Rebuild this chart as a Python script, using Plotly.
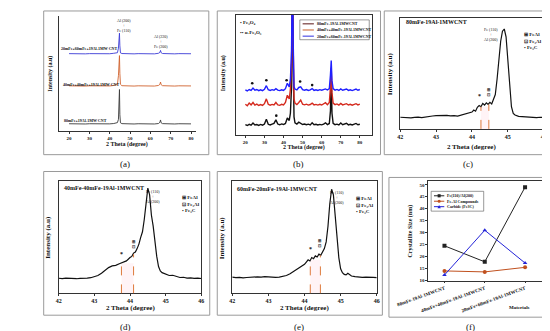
import plotly.graph_objects as go

W, H = 550, 331
SERIF = "Liberation Serif"

# ---------------- (a) stacked XRD patterns ----------------
a_theta = [20, 22, 24, 26, 28, 30, 32, 34, 36, 38, 40, 42,
           43.8, 44.3, 44.6, 44.8, 45.0, 45.3,
           46, 48, 50, 52, 54, 56, 58, 60, 62, 64,
           64.7, 65.0, 65.3,
           66, 68, 70, 72, 74, 76, 78, 80]
a_80 = [6.2, 6.0, 6.3, 6.1, 6.0, 6.2, 6.1, 6.3, 6.0, 6.2, 6.1, 6.4,
        7.2, 10.0, 20.0, 36.0, 14.0, 7.0,
        6.3, 6.1, 6.2, 6.0, 6.2, 6.1, 6.3, 6.2, 6.0, 6.4,
        7.5, 9.5, 7.0,
        6.3, 6.1, 6.2, 6.0, 6.2, 6.1, 6.2, 6.1]
a_40 = [39.2, 39.0, 39.3, 39.1, 39.0, 39.2, 39.1, 39.3, 39.0, 39.2, 39.1, 39.5,
        40.5, 48.0, 62.0, 65.5, 50.0, 40.5,
        39.3, 39.1, 39.2, 39.0, 39.2, 39.1, 39.3, 39.2, 39.0, 39.5,
        40.5, 42.5, 40.2,
        39.3, 39.1, 39.2, 39.0, 39.2, 39.1, 39.2, 39.1]
a_20 = [67.2, 67.0, 67.3, 67.1, 67.0, 67.2, 67.1, 67.3, 67.0, 67.2, 67.1, 67.5,
        68.0, 72.0, 82.0, 85.0, 74.0, 67.8,
        67.3, 67.1, 67.2, 67.0, 67.2, 67.1, 67.3, 67.2, 67.0, 67.5,
        68.3, 70.0, 68.0,
        67.3, 67.1, 67.2, 67.0, 67.2, 67.1, 67.2, 67.1]
a_names = ["80mFe+19Al-1MW CNT", "40mFe+40mFe+19Al-1MW CNT", "20mFe+60mFe+19Al-1MW CNT"]

# ---------------- (b) XRD patterns with oxides ----------------
b_theta = [20, 21, 22, 23, 24, 25, 26, 27, 28, 29, 30, 31, 32, 33, 34, 35, 36, 37, 38, 39, 40, 41, 42, 43,
           43.6, 44.2, 44.5, 44.8, 45.1, 45.5,
           46, 47, 48, 49, 50, 51, 52, 53, 54, 55, 56, 57, 58, 59, 60, 61, 62, 63, 64,
           64.6, 65.0, 65.4,
           66, 67, 68, 69, 70, 71, 72, 73, 74, 75, 76, 77, 78, 79, 80]
b_80 = [8.5, 7.8, 8.8, 8.0, 9.8, 8.2, 8.6, 7.9, 8.7, 8.1, 9.0, 13.0, 8.8, 8.2, 8.9, 9.5, 12.5, 9.0, 8.4, 9.1, 8.6, 9.5, 14.0, 12.0,
        18, 40, 120, 130, 60, 15,
        10.0, 9.0, 10.5, 9.2, 8.6, 9.0, 8.4, 8.9, 8.3, 10.0, 8.5, 8.8, 8.2, 8.7, 8.3, 9.0, 10.0, 8.6, 9.5,
        20, 50, 18,
        9.5, 8.5, 8.9, 8.2, 9.8, 8.4, 8.8, 9.6, 8.3, 8.8, 8.2, 8.7, 9.5, 8.4, 8.8]
b_40 = [25.5, 24.2, 26.5, 25.0, 27.0, 24.8, 25.6, 24.5, 25.3, 24.6, 26.0, 30.0, 25.5, 24.7, 25.4, 24.9, 27.0, 25.0, 24.6, 25.5, 25.0, 27.0, 33.0, 30.0,
        38, 60, 120, 130, 70, 30,
        26.5, 25.2, 27.0, 29.0, 25.5, 25.0, 25.6, 24.8, 25.3, 26.5, 25.0, 25.4, 24.8, 25.5, 24.9, 25.6, 26.8, 25.2, 27.0,
        40, 56, 35,
        26.5, 25.2, 25.8, 24.8, 26.2, 25.0, 25.5, 26.0, 24.9, 25.5, 24.7, 25.3, 26.0, 25.0, 25.6]
b_20 = [37.5, 36.6, 37.8, 37.0, 39.0, 37.2, 37.8, 36.8, 37.6, 36.9, 38.0, 41.0, 37.6, 37.0, 37.7, 37.2, 38.5, 37.3, 36.9, 37.6, 37.1, 38.5, 43.0, 40.0,
        46, 70, 125, 130, 75, 40,
        38.2, 37.5, 39.5, 40.0, 37.6, 37.2, 37.8, 37.0, 37.5, 38.6, 37.1, 37.6, 37.0, 37.7, 37.2, 37.8, 38.3, 37.4, 38.5,
        50, 62, 45,
        38.5, 37.3, 37.9, 37.0, 38.3, 37.2, 37.7, 38.2, 37.1, 37.6, 36.9, 37.5, 38.2, 37.2, 37.8]
b_names = ["80mFe-19Al-1MWCNT", "40mFe+40mFe-19Al-1MWCNT", "20mFe+60mFe-19Al-1MWCNT"]
b_star_theta = [23.6, 31.0, 41.6, 48.7, 55.0, 36.2]
b_star_int = [43.0, 45.5, 45.5, 44.5, 41.5, 16.0]

# ---------------- (c) 80mFe-19Al-1MWCNT ----------------
c_theta = [42.0, 42.1, 42.2, 42.3, 42.4, 42.5, 42.6, 42.7, 42.8, 42.9, 43.0, 43.1, 43.2, 43.3, 43.4, 43.5,
           43.6, 43.7, 43.8, 43.9, 44.0, 44.05, 44.1, 44.15, 44.2, 44.25, 44.3, 44.35, 44.4, 44.45, 44.5,
           44.55, 44.6, 44.65, 44.7, 44.75, 44.8, 44.85, 44.9, 44.95, 45.0, 45.05, 45.1, 45.15, 45.2,
           45.3, 45.4, 45.5, 45.6, 45.7, 45.8, 45.9, 46.0]
c_int = [10.5, 10.2, 10.4, 10.0, 10.3, 10.6, 10.2, 10.9, 11.3, 11.6, 11.9, 12.1, 11.7, 12.2, 11.8, 12.0,
         11.5, 12.6, 13.2, 14.5, 15.2, 17.0, 16.0, 19.5, 21.0, 20.0, 23.0, 21.5, 23.5, 22.0, 24.0,
         22.5, 26.0, 31.0, 45.0, 62.0, 79.0, 88.0, 90.0, 83.0, 60.0, 35.0, 20.0, 14.0, 12.5,
         11.3, 11.0, 10.7, 10.4, 10.6, 10.2, 10.5, 10.3]
c_dash_theta = [44.25, 44.47]
c_dash_top = [20.0, 22.0]

# ---------------- (d) 40mFe-40mFe-19Al-1MWCNT ----------------
d_theta = [42.0, 42.1, 42.2, 42.3, 42.4, 42.5, 42.6, 42.7, 42.8, 42.9, 43.0, 43.1, 43.2, 43.3, 43.4, 43.5,
           43.6, 43.7, 43.8, 43.9, 44.0, 44.05, 44.1, 44.15, 44.2, 44.25, 44.3, 44.35, 44.4, 44.45, 44.5,
           44.55, 44.6, 44.65, 44.7, 44.75, 44.8, 44.85, 44.9, 45.0, 45.1, 45.2, 45.3, 45.4, 45.5,
           45.6, 45.7, 45.8, 45.9, 46.0]
d_int = [13.5, 13.2, 13.6, 13.3, 13.5, 13.1, 13.4, 13.2, 13.6, 14.0, 15.0, 16.0, 18.0, 20.5, 23.0, 24.5,
         25.0, 26.5, 28.0, 29.0, 32.0, 33.0, 36.0, 37.0, 40.0, 44.0, 50.0, 55.0, 66.0, 82.0, 94.0,
         88.0, 70.0, 60.0, 45.0, 33.0, 24.0, 20.0, 18.5, 17.5, 16.0, 16.2, 15.0, 14.2, 14.4,
         13.6, 13.9, 13.4, 13.6, 13.3]
d_dash_theta = [43.76, 44.1]
d_dash_top = [27.0, 35.0]

# ---------------- (e) 60mFe-20mFe-19Al-1MWCNT ----------------
e_theta = [42.0, 42.1, 42.2, 42.3, 42.4, 42.5, 42.6, 42.7, 42.8, 42.9, 43.0, 43.1, 43.2, 43.3, 43.4, 43.5,
           43.6, 43.7, 43.8, 43.9, 44.0, 44.05, 44.1, 44.15, 44.2, 44.25, 44.3, 44.35, 44.4, 44.45, 44.5,
           44.55, 44.6, 44.65, 44.7, 44.75, 44.8, 44.85, 44.9, 44.95, 45.0, 45.05, 45.1, 45.15, 45.2,
           45.3, 45.4, 45.5, 45.6, 45.7, 45.8, 45.9, 46.0]
e_int = [14.5, 14.0, 14.3, 13.9, 14.2, 14.6, 14.4, 14.8, 14.5, 15.0, 14.8, 14.5, 14.3, 14.6, 15.2, 16.0,
         17.5, 19.5, 21.5, 23.5, 26.0, 28.0, 30.0, 29.0, 32.0, 31.0, 33.5, 32.5, 35.0, 34.0, 37.0,
         40.0, 46.0, 60.0, 80.0, 93.0, 88.0, 70.0, 50.0, 32.0, 22.0, 18.5, 17.0, 16.5, 18.0,
         15.5, 15.0, 14.6, 14.3, 14.5, 14.1, 14.3, 14.0]
e_dash_theta = [44.16, 44.44]
e_dash_top = [30.0, 34.0]

# ---------------- (f) crystallite size ----------------
f_materials = ["80mFe-19Al-1MWCNT", "40mFe+40mFe-19Al-1MWCNT", "20mFe+60mFe-19Al-1MWCNT"]
f_fe110 = [24.5, 17.8, 49.0]
f_feal = [14.0, 13.6, 15.5]
f_carbide = [12.3, 31.0, 17.3]
f_names = ["Fe(110)/Al(200)", "Fe-Al Compounds", "Carbide (Fe3C)"]


def px(x):
    return x / W


def py(y):
    return 1 - y / H


def font(size, bold=True, color="#111111"):
    return dict(family=SERIF, size=size, color=color, weight="bold" if bold else "normal")


fig = go.Figure()
annotations = []
shapes = []


def ann(x, y, text, size, bold=True, xa="center", ya="middle", angle=0, color="#111111", align="center"):
    annotations.append(dict(x=px(x), y=py(y), xref="paper", yref="paper", text=text, showarrow=False,
                            font=font(size, bold, color), xanchor=xa, yanchor=ya, textangle=angle,
                            align=align, borderpad=0))


def dann(xr, yr, x, y, text, size, bold=True, xa="center", ya="middle"):
    annotations.append(dict(x=x, y=y, xref=xr, yref=yr, text=text, showarrow=False,
                            font=font(size, bold), xanchor=xa, yanchor=ya, borderpad=0))


def border(l, t, r, b):
    shapes.append(dict(type="rect", xref="paper", yref="paper", x0=px(l), x1=px(r), y0=py(b), y1=py(t),
                       line=dict(color="#9a9a9a", width=1), fillcolor="rgba(0,0,0,0)", layer="below"))


def axes(n, l, t, r, b, xr, yr, dtick, mirror=True, tick_size=5, yticks=False, ydtick=None):
    xs = "xaxis" if n == 1 else f"xaxis{n}"
    ys = "yaxis" if n == 1 else f"yaxis{n}"
    yid = "y" if n == 1 else f"y{n}"
    xid = "x" if n == 1 else f"x{n}"
    xa = dict(domain=[px(l), px(r)], range=xr, anchor=yid, showline=True, linecolor="#333", linewidth=0.8,
              mirror=mirror, ticks="outside", ticklen=2, tickwidth=0.7, tickcolor="#333", showgrid=False,
              zeroline=False, tickfont=font(tick_size), fixedrange=True)
    if dtick is not None:
        xa.update(dtick=dtick, tick0=0)
    ya = dict(domain=[py(b), py(t)], range=yr, anchor=xid, showline=True, linecolor="#333", linewidth=0.8,
              mirror=mirror, showgrid=False, zeroline=False, fixedrange=True)
    if yticks:
        ya.update(ticks="outside", ticklen=2, tickwidth=0.7, tickcolor="#333", dtick=ydtick,
                  tickfont=font(tick_size))
    else:
        ya.update(showticklabels=False, ticks="")
    fig.update_layout(**{xs: xa, ys: ya})
    return xid, yid


# ---------------- panel (a) ----------------
border(5, 3, 181, 148)
xa_, ya_ = axes(1, 21, 8, 167, 124, [14.9, 82.3], [0, 100], 10, mirror=False, tick_size=5)
for yv, col, nm in [(a_80, "#3a3a3a", a_names[0]), (a_40, "#d0622e", a_names[1]), (a_20, "#3b3bd6", a_names[2])]:
    fig.add_trace(go.Scatter(x=a_theta, y=yv, mode="lines", line=dict(color=col, width=0.9),
                             xaxis=xa_, yaxis=ya_, showlegend=False, name=nm))
ann(22, 41, a_names[2], 4, xa="left")
ann(25, 77, a_names[1], 4, xa="left")
ann(26, 114, a_names[0], 4, xa="left")
ann(91, 18, "Al (200)<br>+<br>Fe (110)", 4, bold=False)
ann(130, 34, "Al (220)<br>+<br>Fe (200)", 4, bold=False)
ann(94, 138, "2 Theta (degree)", 6)
ann(12, 66, "Intensity (a.u)", 6, angle=-90)
ann(92, 157, "(a)", 9, bold=False)

# ---------------- panel (b) ----------------
border(190, 3, 364, 148)
xb_, yb_ = axes(2, 210, 7, 355, 128, [15.1, 86.4], [0, 100], 10, tick_size=5)
for yv, col, nm in [(b_80, "#111111", b_names[0]), (b_40, "#d42a1e", b_names[1]), (b_20, "#1f1fff", b_names[2])]:
    fig.add_trace(go.Scatter(x=b_theta, y=yv, mode="lines", line=dict(color=col, width=1.4),
                             xaxis=xb_, yaxis=yb_, showlegend=False, name=nm))
fig.add_trace(go.Scatter(x=b_star_theta, y=b_star_int, mode="markers",
                         marker=dict(symbol="circle", size=2.6, color="#111"),
                         xaxis=xb_, yaxis=yb_, showlegend=False, name="Fe3O4"))
ann(213, 15, "• Fe₃O₄", 5, xa="left")
ann(213, 25, "•• α-Fe₂O₃", 5, xa="left")
# legend box
shapes.append(dict(type="rect", xref="paper", yref="paper", x0=px(278), x1=px(352), y0=py(32), y1=py(12),
                   line=dict(color="#555", width=0.6), fillcolor="white"))
for i, (col, nm) in enumerate(zip(["#5a1414", "#c8602a", "#3030e0"], b_names)):
    yy = 16 + i * 6.2
    shapes.append(dict(type="line", xref="paper", yref="paper", x0=px(281), x1=px(293), y0=py(yy), y1=py(yy),
                       line=dict(color=col, width=1)))
    ann(295, yy, nm, 4, xa="left")
ann(282, 141, "2 Theta (degree)", 6)
ann(197, 66, "Intensity (a.u)", 6, angle=-90)
ann(277, 157, "(b)", 9, bold=False)


def zoom_panel(n, l, t, r, b, theta, inten, dash_x, dash_top, title, title_xy, peak_xy, leg_xy,
               star_xy, mark_xy, xtitle_y, ytitle_x, lab_xy, lab):
    xi, yi = axes(n, l, t, r, b, [42, 46], [0, 100], 1, tick_size=6)
    shapes.append(dict(type="rect", xref=xi, yref=yi, x0=dash_x[0], x1=dash_x[1], y0=0, y1=min(dash_top),
                       fillcolor="rgba(255,200,215,0.22)", line=dict(width=0), layer="below"))
    for dx, top in zip(dash_x, dash_top):
        shapes.append(dict(type="line", xref=xi, yref=yi, x0=dx, x1=dx, y0=0, y1=top,
                           line=dict(color="#de7a3c", width=1, dash="dash")))
    fig.add_trace(go.Scatter(x=theta, y=inten, mode="lines", line=dict(color="#111", width=1.2),
                             xaxis=xi, yaxis=yi, showlegend=False, name=title))
    ann(title_xy[0], title_xy[1], title, 6, xa="left")
    ann(peak_xy[0], peak_xy[1], "Fe (110)<br>+<br>Al (200)", 4, bold=False)
    ann(leg_xy[0], leg_xy[1], "⊞ FeAl<br>⊡ Fe₃Al<br>• Fe₃C", 5, align="left")
    dann(xi, yi, star_xy[0], star_xy[1], "*", 6)
    dann(xi, yi, mark_xy[0], mark_xy[1], "⊞<br>⊡", 4)
    ann((l + r) / 2, xtitle_y, "2 Theta (degree)", 7)
    ann(ytitle_x, (t + b) / 2, "Intensity (a.u)", 7, angle=-90)
    ann(lab_xy[0], lab_xy[1], lab, 9, bold=False)


# ---------------- panel (c) ----------------
border(368, 3, 546, 148)
zoom_panel(3, 385, 10, 538, 122, c_theta, c_int, c_dash_theta, c_dash_top, "80mFe-19Al-1MWCNT",
           (390, 14), (482, 27), (527, 33), (44.2, 30), (44.48, 33), 140, 375, (457, 157), "(c)")

# ---------------- panel (d) ----------------
border(5, 165, 182, 310)
zoom_panel(4, 21, 175, 173, 288, d_theta, d_int, d_dash_theta, d_dash_top, "40mFe-40mFe-19Al-1MWCNT",
           (26, 182), (122, 190), (162, 198), (43.76, 35), (44.1, 44), 303, 10, (92, 322), "(d)")

# ---------------- panel (e) ----------------
border(190, 165, 366, 310)
zoom_panel(5, 206, 175, 360, 288, e_theta, e_int, e_dash_theta, e_dash_top, "60mFe-20mFe-19Al-1MWCNT",
           (210, 183), (318, 191), (348, 199), (44.16, 40), (44.44, 45), 303, 195, (277, 322), "(e)")

# ---------------- panel (f) ----------------
border(373, 171, 547, 312)
xf_, yf_ = axes(6, 415, 175, 540, 275, [-0.4, 2.51], [10, 51.4], None, tick_size=5, yticks=True, ydtick=5)
fig.update_layout(xaxis6=dict(type="category", tickangle=-20, ticks="outside", ticklen=2))
for yv, col, sym, nm in [(f_fe110, "#222222", "square", f_names[0]),
                         (f_feal, "#c0501e", "circle", f_names[1]),
                         (f_carbide, "#2424d8", "triangle-up", f_names[2])]:
    fig.add_trace(go.Scatter(x=f_materials, y=yv, mode="lines+markers", line=dict(color=col, width=1),
                             marker=dict(symbol=sym, size=4, color=col), xaxis=xf_, yaxis=yf_,
                             showlegend=False, name=nm))
# legend for (f)
shapes.append(dict(type="rect", xref="paper", yref="paper", x0=px(418), x1=px(474), y0=py(205), y1=py(185),
                   line=dict(color="#555", width=0.6), fillcolor="white"))
leg_cols = ["#222222", "#c0501e", "#2424d8"]
for i, (col, nm) in enumerate(zip(leg_cols, f_names)):
    yy = 189.5 + i * 5.5
    shapes.append(dict(type="line", xref="paper", yref="paper", x0=px(421), x1=px(432), y0=py(yy), y1=py(yy),
                       line=dict(color=col, width=1)))
    cx = 426.5
    if i == 0:
        shapes.append(dict(type="rect", xref="paper", yref="paper", x0=px(cx - 1.6), x1=px(cx + 1.6),
                           y0=py(yy + 1.6), y1=py(yy - 1.6), fillcolor=col, line=dict(width=0)))
    elif i == 1:
        shapes.append(dict(type="circle", xref="paper", yref="paper", x0=px(cx - 1.6), x1=px(cx + 1.6),
                           y0=py(yy + 1.6), y1=py(yy - 1.6), fillcolor=col, line=dict(width=0)))
    else:
        path = f"M {px(cx - 1.8)} {py(yy + 1.5)} L {px(cx + 1.8)} {py(yy + 1.5)} L {px(cx)} {py(yy - 1.8)} Z"
        shapes.append(dict(type="path", xref="paper", yref="paper", path=path, fillcolor=col, line=dict(width=0)))
    ann(434, yy, nm, 4, xa="left")
ann(512, 302, "Materials", 5)
ann(396, 225, "Crystallite Size (nm)", 6, angle=-90)
ann(460, 322, "(f)", 9, bold=False)

fig.update_layout(width=W, height=H, margin=dict(l=0, r=0, t=0, b=0), paper_bgcolor="white",
                  plot_bgcolor="white", showlegend=False, annotations=annotations, shapes=shapes)
fig.write_html("out.html")
